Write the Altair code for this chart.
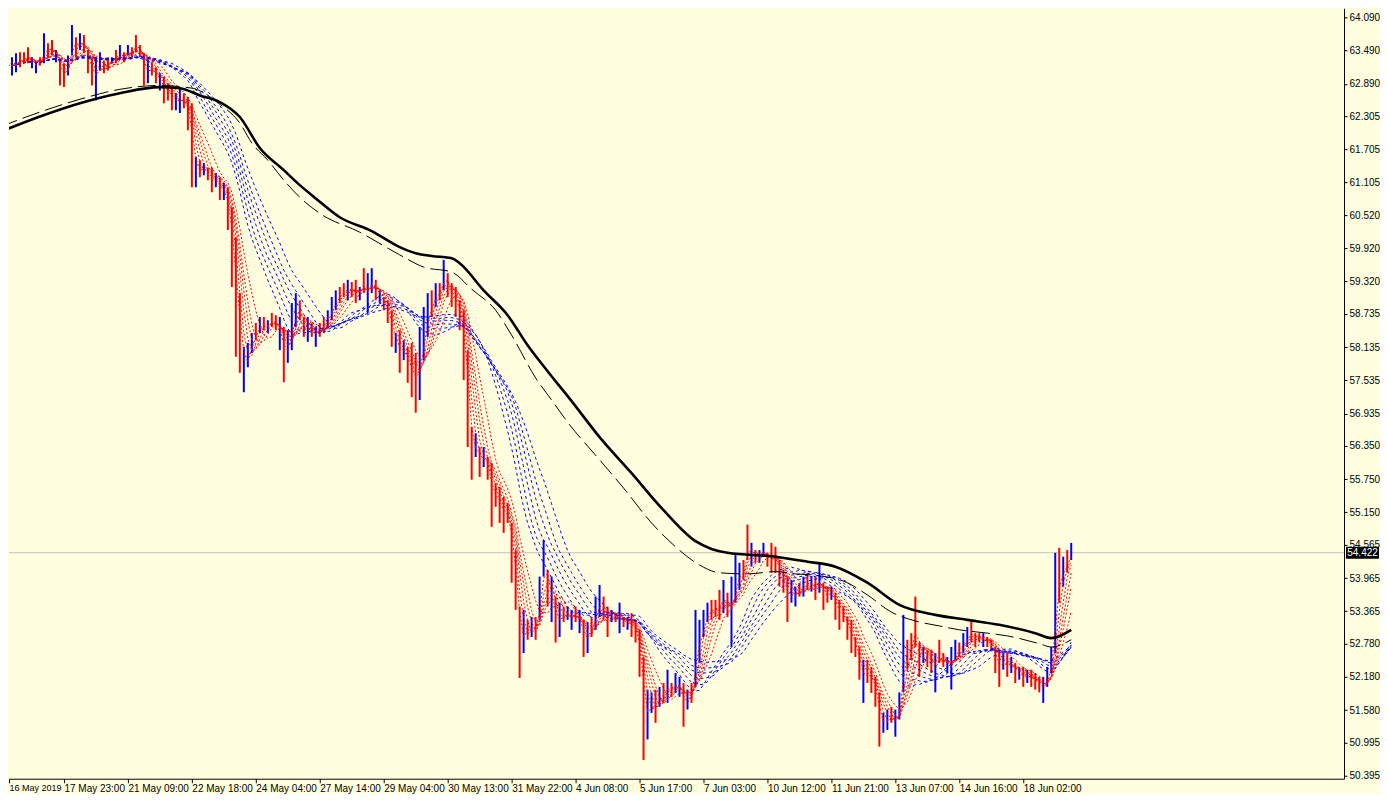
import json
import altair as alt
import pandas as pd

# ---- OHLC bars (2-hour resolution): highs, lows, direction ----
hi = [63.31, 63.64, 63.37, 63.44, 63.46, 63.46, 63.55, 63.37, 63.28, 63.37,
      63.80, 63.62, 63.68, 63.50, 63.35, 63.26, 63.40, 63.95, 63.73, 63.80,
      63.77, 63.50, 63.37, 63.37, 63.46, 63.31, 63.37, 63.37, 63.50, 63.59,
      63.46, 63.59, 63.55, 63.77, 63.59, 63.44, 63.31, 63.28, 63.19, 63.08,
      63.01, 62.90, 62.83, 62.72, 62.83, 62.72, 62.65, 62.54, 61.57, 61.51,
      61.46, 61.38, 61.38, 61.28, 61.20, 61.10, 61.02, 60.66, 60.12, 59.11,
      58.14, 58.21, 58.39, 58.57, 58.68, 58.68, 58.62, 58.75, 58.71, 58.68,
      58.50, 58.44, 58.93, 59.11, 58.98, 58.68, 58.68, 58.57, 58.50, 58.57,
      58.68, 58.80, 59.04, 59.16, 59.22, 59.29, 59.35, 59.31, 59.35, 59.22,
      59.56, 59.47, 59.56, 59.35, 59.16, 59.04, 58.98, 58.80, 58.39, 58.44,
      58.26, 58.14, 58.21, 58.03, 58.50, 58.86, 59.11, 59.16, 59.29, 59.29,
      59.71, 59.47, 59.29, 59.22, 58.98, 58.80, 58.08, 56.69, 56.58, 56.33,
      56.33, 56.15, 56.04, 55.68, 55.61, 55.43, 55.32, 54.96, 54.47, 53.45,
      53.39, 53.21, 53.26, 53.26, 53.99, 54.65, 54.11, 53.99, 53.63, 53.52,
      53.45, 53.45, 53.39, 53.45, 53.39, 53.21, 53.17, 53.26, 53.63, 53.84,
      53.63, 53.45, 53.39, 53.33, 53.52, 53.26, 53.26, 53.33, 53.21, 53.03,
      52.54, 51.95, 51.90, 51.95, 52.00, 52.07, 52.31, 52.07, 52.25, 52.18,
      52.07, 51.95, 52.07, 53.39, 53.21, 53.39, 53.52, 53.57, 53.57, 53.75,
      53.93, 53.70, 53.99, 54.38, 54.24, 54.29, 54.93, 54.60, 54.47, 54.47,
      54.60, 54.42, 54.60, 54.53, 54.29, 54.11, 53.99, 53.93, 53.81, 53.88,
      53.99, 54.06, 53.99, 53.99, 54.24, 53.88, 53.81, 53.81, 53.70, 53.57,
      53.45, 53.26, 53.21, 52.90, 52.72, 52.49, 52.49, 52.36, 52.18, 51.90,
      51.53, 51.59, 51.64, 51.59, 51.90, 53.30, 52.85, 52.97, 53.63, 52.80,
      52.72, 52.67, 52.67, 52.61, 52.85, 52.61, 52.54, 52.72, 52.85, 52.80,
      52.97, 53.08, 53.21, 52.97, 52.97, 52.97, 52.90, 52.85, 52.72, 52.67,
      52.61, 52.61, 52.54, 52.43, 52.36, 52.36, 52.31, 52.31, 52.25, 52.18,
      52.18, 52.36, 52.72, 54.42, 54.51, 54.35, 54.47, 54.60]

lo = [62.86, 63.08, 63.04, 63.10, 63.19, 63.28, 63.26, 63.17, 63.08, 63.22,
      63.26, 63.35, 63.40, 63.28, 62.86, 62.83, 63.04, 63.40, 63.37, 63.50,
      63.44, 63.08, 62.86, 62.59, 63.13, 63.08, 63.13, 63.26, 63.26, 63.35,
      63.28, 63.40, 63.37, 63.46, 63.37, 62.86, 62.90, 63.04, 62.90, 62.77,
      62.54, 62.59, 62.41, 62.41, 62.36, 62.45, 62.05, 61.02, 61.02, 61.20,
      61.24, 61.15, 60.93, 61.02, 60.79, 60.79, 60.25, 59.22, 57.96, 57.67,
      57.32, 57.77, 58.03, 58.26, 58.39, 58.44, 58.39, 58.50, 58.44, 58.08,
      57.50, 57.85, 58.08, 58.50, 58.62, 58.32, 58.23, 58.32, 58.14, 58.32,
      58.39, 58.50, 58.62, 58.80, 58.93, 59.04, 58.98, 59.04, 58.93, 58.98,
      59.11, 58.75, 59.11, 58.98, 58.93, 58.80, 58.57, 58.14, 58.03, 57.67,
      57.90, 57.49, 57.23, 56.95, 57.18, 57.90, 58.32, 58.68, 58.86, 58.98,
      59.16, 59.04, 58.86, 58.68, 58.44, 57.54, 56.33, 55.74, 56.15, 55.79,
      55.97, 55.74, 54.89, 55.25, 54.96, 54.78, 54.96, 53.88, 53.39, 52.16,
      52.61, 52.85, 52.90, 52.85, 53.21, 53.99, 53.45, 53.17, 52.80, 52.90,
      53.17, 53.21, 53.03, 53.17, 52.97, 52.54, 52.61, 52.90, 53.03, 53.26,
      53.21, 52.90, 53.17, 53.17, 52.97, 53.08, 53.03, 52.90, 52.80, 52.18,
      50.68, 51.05, 51.53, 51.35, 51.64, 51.71, 51.71, 51.82, 51.89, 51.82,
      51.28, 51.59, 51.71, 52.00, 52.43, 52.90, 53.17, 53.21, 53.26, 53.21,
      53.33, 53.26, 52.72, 53.52, 53.75, 53.93, 54.29, 54.17, 54.24, 54.24,
      54.35, 54.17, 54.06, 54.06, 53.81, 53.70, 53.17, 53.52, 53.45, 53.63,
      53.63, 53.75, 53.72, 53.57, 53.70, 53.39, 53.52, 53.57, 53.21, 53.03,
      53.17, 52.85, 52.61, 52.54, 52.13, 51.71, 52.07, 51.89, 51.64, 50.92,
      51.17, 51.22, 51.35, 51.10, 51.41, 51.90, 52.31, 52.49, 52.72, 52.18,
      52.43, 52.36, 52.25, 51.90, 52.43, 52.36, 52.25, 51.95, 52.49, 52.54,
      52.61, 52.72, 52.80, 52.72, 52.80, 52.72, 52.72, 52.67, 52.25, 52.00,
      52.31, 52.18, 52.25, 52.07, 52.13, 52.00, 52.07, 52.00, 51.95, 51.90,
      51.71, 52.00, 52.25, 52.61, 53.52, 53.81, 54.06, 54.29]

direction = ("RRBBRRRBBR" "BRRBRRBBRB" "RRRBBRRBRB" "RBRRRRBRRB" "RRRBBRRRBR"
             "BRRBRBRRRR" "BBBRBRBRRB" "RBBBRRBRBR" "RBBBRRBRRB" "RBBRBRRRBR"
             "BRRRBBBRBR" "BRRRRRRRBR" "BRRRRRRRRR" "BRBRBBRBRB" "RBBRBRBRBB"
             "RRBRBRBRRR" "RBBRBRBRBB" "RBRBBBBRRR" "BRBBBRRBRB" "BRRRRRRBBR"
             "BRBRBRRBRR" "RRRRRBRRRR" "BBRBBBRRRR" "BRRBRRBBBR" "BBRRRBRRRR"
             "BRBRBRBRRR" "BBBBRBRB")

# ---- moving-average periods (in 2-hour bars) ----
red_periods = [2, 3, 4, 5, 6, 8]
blue_periods = [15, 17, 19, 21, 23, 26]

# ---- long black averages ----
solid_idx = [0, 10, 20, 30, 40, 45, 50, 55, 60, 65, 71, 75, 79, 85, 93, 100, 104, 108, 113,
             115, 121, 127, 132, 137, 143, 150, 158, 166, 174, 178, 182, 194, 202, 209, 217,
             225, 234, 242, 250, 259, 263, 268]
solid_val = [62.02, 62.30, 62.54, 62.72, 62.83, 62.81, 62.68, 62.56, 62.29, 61.73, 61.33,
             61.06, 60.82, 60.48, 60.23, 59.94, 59.83, 59.78, 59.74, 59.65, 59.16, 58.71,
             58.17, 57.70, 57.16, 56.51, 55.86, 55.19, 54.63, 54.49, 54.42, 54.35, 54.26,
             54.17, 53.88, 53.48, 53.30, 53.21, 53.12, 52.97, 52.88, 53.03]
dash_idx = [0, 10, 20, 30, 40, 48, 55, 60, 63, 67, 71, 75, 80, 90, 100, 106, 113, 118, 124, 128,
            134, 138, 142, 150, 156, 163, 169, 175, 180, 187, 194, 199, 203, 211, 217, 223, 229,
            235, 240, 247, 252, 260, 263, 268]
dash_val = [62.11, 62.38, 62.61, 62.79, 62.86, 62.81, 62.52, 62.18, 61.82, 61.51, 61.15, 60.84,
            60.55, 60.21, 59.80, 59.58, 59.49, 59.18, 58.80, 58.35, 57.58, 57.18, 56.78, 56.10,
            55.59, 54.96, 54.53, 54.20, 54.06, 54.04, 54.08, 54.04, 54.02, 53.91, 53.66, 53.35,
            53.19, 53.10, 53.03, 52.97, 52.92, 52.78, 52.72, 52.85]

# ---- axis labels ----
time_labels = ["16 May 2019", "17 May 23:00", "21 May 09:00", "22 May 18:00", "24 May 04:00",
               "27 May 14:00", "29 May 04:00", "30 May 13:00", "31 May 22:00", "4 Jun 08:00",
               "5 Jun 17:00", "7 Jun 03:00", "10 Jun 12:00", "11 Jun 21:00", "13 Jun 07:00",
               "14 Jun 16:00", "18 Jun 02:00"]
price_ticks = [64.090, 63.490, 62.890, 62.305, 61.705, 61.105, 60.520, 59.920, 59.320, 58.735,
               58.135, 57.535, 56.935, 56.350, 55.750, 55.150, 54.565, 53.965, 53.365, 52.780,
               52.180, 51.580, 50.995, 50.395]
last_price = 54.422

# ---------------------------------------------------------------------------
W, H = 1336, 771
FONT = "Liberation Sans"

bars = pd.DataFrame({"i": list(range(1, len(hi) + 1)), "hi": hi, "lo": lo,
                     "dir": list(direction)})
solid = pd.DataFrame({"i": solid_idx, "v": solid_val})
dashed = pd.DataFrame({"i": dash_idx, "v": dash_val})
bid = pd.DataFrame({"p": [last_price], "t": [f"{last_price:.3f}"]})

xscale = alt.Scale(domain=[2.25, 336.25], nice=False, zero=False)
yscale = alt.Scale(domain=[50.341, 64.253], nice=False, zero=False)

x_axis = alt.Axis(
    values=[2.25] + [16 * j for j in range(1, len(time_labels))],
    labelExpr=json.dumps(time_labels) + "[round(datum.value/16)]",
    labelAlign="left", labelBaseline="top", labelPadding=1,
    labelFlush=False, labelOverlap=False, tickSize=4, tickColor="black",
    domainColor="black", labelColor="black", labelFont=FONT,
    labelFontSize={"condition": {"test": "datum.value < 5", "value": 9}, "value": 10},
    grid=False, title=None)
y_axis = alt.Axis(
    orient="right", values=price_ticks, format=".3f", tickSize=3, labelPadding=2,
    tickColor="black", domainColor="black", labelColor="black", labelFont=FONT,
    labelFontSize=10, labelOverlap=False, labelFlush=False, grid=False, title=None)


def X(f):
    return alt.X(f, type="quantitative", scale=xscale, axis=x_axis)


def Y(f):
    return alt.Y(f, type="quantitative", scale=yscale, axis=y_axis)


bid_line = alt.Chart(bid).mark_rule(color="#C0C0C0", strokeWidth=1).encode(y=Y("p"))

bar_layer = alt.Chart(bars).mark_rule(strokeWidth=2, clip=True).encode(
    x=X("i"), y=Y("hi"), y2=alt.Y2("lo"),
    color=alt.Color("dir:N", scale=alt.Scale(domain=["B", "R"], range=["#0000FF", "#FF0000"]),
                    legend=None))


def ma_layer(periods, color, dash):
    c = alt.Chart(bars).transform_calculate(mid="(datum.hi + datum.lo) / 2")
    names = []
    for n in periods:
        nm = f"ma{n}"
        names.append(nm)
        c = c.transform_window(**{nm: "mean(mid)"}, frame=[-(n - 1), 0],
                               sort=[alt.SortField("i", order="ascending")])
    c = c.transform_fold(names, as_=["line", "val"])
    return c.mark_line(color=color, strokeWidth=1, strokeDash=dash, clip=True).encode(
        x=X("i"), y=Y("val"), detail="line:N")


blue_ma = ma_layer(blue_periods, "#0000FF", [3, 3])
red_ma = ma_layer(red_periods, "#FF0000", [2, 2])

dash_line = alt.Chart(dashed).mark_line(color="black", strokeWidth=1, strokeDash=[18, 6],
                                        interpolate="monotone", clip=True).encode(
    x=X("i"), y=Y("v"))
solid_line = alt.Chart(solid).mark_line(color="black", strokeWidth=2.6,
                                        interpolate="monotone", clip=True).encode(
    x=X("i"), y=Y("v"))

price_box = alt.Chart(bid).mark_tick(color="black", thickness=12, size=33, opacity=1,
                                     orient="horizontal").encode(
    x=alt.value(W + 18.5), y=Y("p"))
price_txt = alt.Chart(bid).mark_text(color="white", font=FONT, fontSize=10, align="center",
                                     baseline="middle").encode(
    x=alt.value(W + 18.5), y=Y("p"), text="t:N")

chart = alt.layer(bid_line, bar_layer, blue_ma, red_ma, dash_line, solid_line,
                  price_box, price_txt).properties(
    width=W, height=H, padding=0, background="#FFFFE0"
).configure_view(stroke="transparent")

chart.save("out.html", embed_options={"renderer": "svg", "actions": False})
